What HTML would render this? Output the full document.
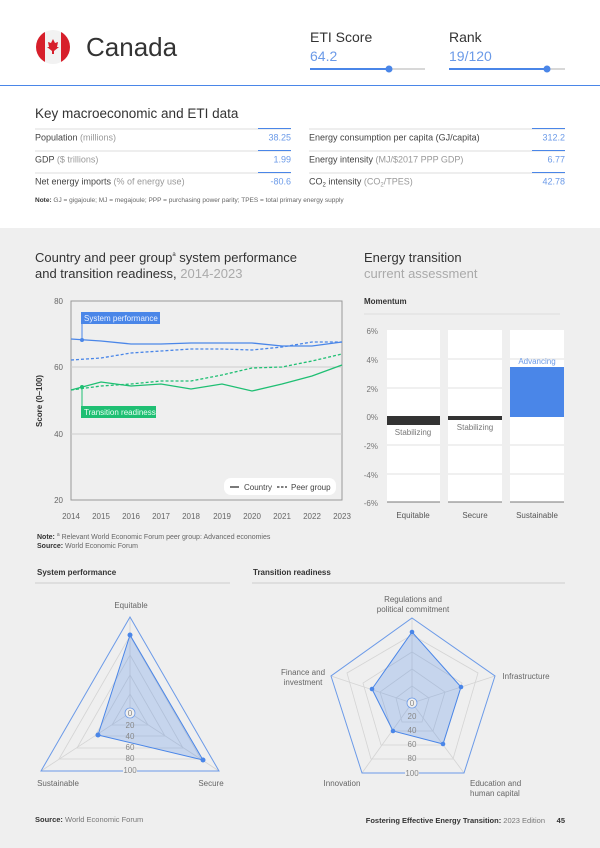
<!DOCTYPE html>
<html><head><meta charset="utf-8"><style>
html,body{margin:0;padding:0;background:#fff}
svg{display:block;font-family:"Liberation Sans",sans-serif}
</style></head><body>
<svg width="600" height="848" viewBox="0 0 600 848" xmlns="http://www.w3.org/2000/svg">
<rect width="600" height="228" fill="#fff"/>
<rect y="228" width="600" height="620" fill="#efefef"/>
<defs><clipPath id="fc"><circle cx="53" cy="47" r="17"/></clipPath></defs>
<g clip-path="url(#fc)">
<rect x="36" y="30" width="34" height="34" fill="#f2f2f2"/>
<rect x="36" y="30" width="9" height="34" fill="#d71f2b"/>
<rect x="61" y="30" width="9" height="34" fill="#d71f2b"/>
<path d="M53 39 L55 43 L58 42 L57 47 L59 47 L54 51 L54 54 L52 54 L52 51 L47 47 L49 47 L48 42 L51 43 Z" fill="#d71f2b"/>
</g>
<text x="86" y="56" font-size="26" fill="#333">Canada</text>
<text x="310" y="42" font-size="14" fill="#333">ETI Score</text>
<text x="310" y="61" font-size="14" fill="#6b9ae8">64.2</text>
<line x1="310" y1="69" x2="425" y2="69" stroke="#ccc" stroke-width="1.5"/>
<line x1="310" y1="69" x2="389" y2="69" stroke="#4a86e8" stroke-width="2"/>
<circle cx="389" cy="69" r="3.5" fill="#4a86e8"/>
<text x="449" y="42" font-size="14" fill="#333">Rank</text>
<text x="449" y="61" font-size="14" fill="#6b9ae8">19/120</text>
<line x1="449" y1="69" x2="565" y2="69" stroke="#ccc" stroke-width="1.5"/>
<line x1="449" y1="69" x2="547" y2="69" stroke="#4a86e8" stroke-width="2"/>
<circle cx="547" cy="69" r="3.5" fill="#4a86e8"/>
<line x1="0" y1="85.5" x2="600" y2="85.5" stroke="#4a86e8" stroke-width="1"/>
<text x="35" y="118" font-size="13.5" fill="#333">Key macroeconomic and ETI data</text>
<g font-size="9" fill="#444">
<line x1="35" y1="129" x2="291" y2="129" stroke="#ddd"/><line x1="258" y1="128.5" x2="291" y2="128.5" stroke="#4a86e8"/>
<line x1="35" y1="151" x2="291" y2="151" stroke="#ddd"/><line x1="258" y1="150.5" x2="291" y2="150.5" stroke="#4a86e8"/>
<line x1="35" y1="173" x2="291" y2="173" stroke="#ddd"/><line x1="258" y1="172.5" x2="291" y2="172.5" stroke="#4a86e8"/>
<line x1="309" y1="129" x2="565" y2="129" stroke="#ddd"/><line x1="532" y1="128.5" x2="565" y2="128.5" stroke="#4a86e8"/>
<line x1="309" y1="151" x2="565" y2="151" stroke="#ddd"/><line x1="532" y1="150.5" x2="565" y2="150.5" stroke="#4a86e8"/>
<line x1="309" y1="173" x2="565" y2="173" stroke="#ddd"/><line x1="532" y1="172.5" x2="565" y2="172.5" stroke="#4a86e8"/>
<text x="35" y="140.5">Population <tspan fill="#999">(millions)</tspan></text>
<text x="291" y="140.5" text-anchor="end" fill="#6b9ae8">38.25</text>
<text x="35" y="162.5">GDP <tspan fill="#999">($ trillions)</tspan></text>
<text x="291" y="162.5" text-anchor="end" fill="#6b9ae8">1.99</text>
<text x="35" y="184.5">Net energy imports <tspan fill="#999">(% of energy use)</tspan></text>
<text x="291" y="184.5" text-anchor="end" fill="#6b9ae8">-80.6</text>
<text x="309" y="140.5">Energy consumption per capita (GJ/capita)</text>
<text x="565" y="140.5" text-anchor="end" fill="#6b9ae8">312.2</text>
<text x="309" y="162.5">Energy intensity <tspan fill="#999">(MJ/$2017 PPP GDP)</tspan></text>
<text x="565" y="162.5" text-anchor="end" fill="#6b9ae8">6.77</text>
<text x="309" y="184.5">CO<tspan font-size="6" dy="2">2</tspan><tspan dy="-2"> intensity </tspan><tspan fill="#999">(CO<tspan font-size="6" dy="2">2</tspan><tspan dy="-2">/TPES)</tspan></tspan></text>
<text x="565" y="184.5" text-anchor="end" fill="#6b9ae8">42.78</text>
</g>
<text x="35" y="202" font-size="6.5" fill="#666"><tspan font-weight="bold" fill="#333">Note:</tspan> GJ = gigajoule; MJ = megajoule; PPP = purchasing power parity; TPES = total primary energy supply</text>
<text x="35" y="262" font-size="13" fill="#333">Country and peer group<tspan font-size="6" dy="-6">a</tspan><tspan dy="6"> system performance</tspan></text>
<text x="35" y="278" font-size="13" fill="#333">and transition readiness, <tspan fill="#aaa">2014-2023</tspan></text>
<text x="364" y="262" font-size="13" fill="#333">Energy transition</text>
<text x="364" y="278" font-size="13" fill="#aaa">current assessment</text>
<rect x="71" y="301" width="271" height="199" fill="none" stroke="#999" stroke-width="1"/>
<line x1="71" y1="367" x2="342" y2="367" stroke="#ccc"/>
<line x1="71" y1="434" x2="342" y2="434" stroke="#ccc"/>
<g font-size="8" fill="#666" text-anchor="end">
<text x="63" y="304">80</text><text x="63" y="370">60</text><text x="63" y="437">40</text><text x="63" y="503">20</text>
</g>
<g font-size="8" fill="#666" text-anchor="middle">
<text x="71" y="519">2014</text><text x="101" y="519">2015</text><text x="131" y="519">2016</text><text x="161" y="519">2017</text><text x="191" y="519">2018</text><text x="222" y="519">2019</text><text x="252" y="519">2020</text><text x="282" y="519">2021</text><text x="312" y="519">2022</text><text x="342" y="519">2023</text>
</g>
<text transform="translate(42,401) rotate(-90)" font-size="8" font-weight="bold" fill="#333" text-anchor="middle">Score (0–100)</text>
<polyline fill="none" stroke="#4a86e8" stroke-width="1.3" points="71,339 101,341 131,344 161,344 191,343 222,343 252,343 282,346 312,346 342,342"/>
<polyline fill="none" stroke="#4a86e8" stroke-width="1.3" stroke-dasharray="3,2" points="71,360 101,358 131,353 161,351 191,349 222,349 252,350 282,347 312,342 342,342"/>
<polyline fill="none" stroke="#1fbf73" stroke-width="1.3" points="71,390 101,382 131,386 161,384 191,389 222,384 252,391 282,384 312,376 342,365"/>
<polyline fill="none" stroke="#1fbf73" stroke-width="1.3" stroke-dasharray="3,2" points="71,390 101,386 131,384 161,381 191,381 222,375 252,368 282,367 312,361 342,354"/>
<line x1="82" y1="323" x2="82" y2="340" stroke="#4a86e8"/>
<circle cx="82" cy="340" r="2" fill="#4a86e8"/>
<rect x="81" y="312" width="79" height="12" fill="#4a86e8"/>
<text x="84" y="321" font-size="8" fill="#e8f0ff">System performance</text>
<line x1="82" y1="387" x2="82" y2="407" stroke="#1fbf73"/>
<circle cx="82" cy="387" r="2" fill="#1fbf73"/>
<rect x="81" y="406" width="75" height="12" fill="#1fbf73"/>
<text x="84" y="415" font-size="8" fill="#e8fff2">Transition readiness</text>
<rect x="224" y="478" width="112" height="17" rx="7" fill="#fff"/>
<line x1="230" y1="487" x2="239" y2="487" stroke="#333" stroke-width="1.3"/>
<text x="244" y="490" font-size="8" fill="#444">Country</text>
<line x1="277" y1="487" x2="287" y2="487" stroke="#333" stroke-width="1.3" stroke-dasharray="2.5,1.5"/>
<text x="291" y="490" font-size="8" fill="#444">Peer group</text>
<text x="364" y="304" font-size="8" font-weight="bold" fill="#333">Momentum</text>
<line x1="364" y1="314" x2="560" y2="314" stroke="#ddd"/>
<g fill="#fff"><rect x="387" y="330" width="53" height="172"/><rect x="448" y="330" width="54" height="172"/><rect x="510" y="330" width="54" height="172"/></g>
<g stroke="#e6e6e6" stroke-width="1.2">
<line x1="387" y1="359" x2="564" y2="359"/><line x1="387" y1="388" x2="564" y2="388"/><line x1="387" y1="445" x2="564" y2="445"/><line x1="387" y1="474" x2="564" y2="474"/>
</g>
<g stroke="#efefef" stroke-width="8"><line x1="444" y1="330" x2="444" y2="502"/><line x1="506" y1="330" x2="506" y2="502"/></g>
<g stroke="#777" stroke-width="1"><line x1="387" y1="502" x2="440" y2="502"/><line x1="448" y1="502" x2="502" y2="502"/><line x1="510" y1="502" x2="564" y2="502"/></g>
<rect x="387" y="416" width="53" height="9" fill="#333"/>
<rect x="448" y="416" width="54" height="4" fill="#333"/>
<rect x="510" y="367" width="54" height="50" fill="#4a86e8"/>
<g font-size="8" fill="#777" text-anchor="middle">
<text x="413" y="435">Stabilizing</text><text x="475" y="430">Stabilizing</text><text x="537" y="364" fill="#6b9ae8">Advancing</text>
<text x="413" y="518" fill="#555">Equitable</text><text x="475" y="518" fill="#555">Secure</text><text x="537" y="518" fill="#555">Sustainable</text>
</g>
<g font-size="8" fill="#777" text-anchor="end">
<text x="378" y="334">6%</text><text x="378" y="363">4%</text><text x="378" y="392">2%</text><text x="378" y="420">0%</text><text x="378" y="449">-2%</text><text x="378" y="478">-4%</text><text x="378" y="506">-6%</text>
</g>
<text x="37" y="539" font-size="7" fill="#666"><tspan font-weight="bold" fill="#333">Note: </tspan><tspan font-size="5" dy="-3">a</tspan><tspan dy="3"> Relevant World Economic Forum peer group: Advanced economies</tspan></text>
<text x="37" y="548" font-size="7" fill="#666"><tspan font-weight="bold" fill="#333">Source:</tspan> World Economic Forum</text>
<text x="37" y="575" font-size="8" font-weight="bold" fill="#333">System performance</text>
<line x1="35" y1="583" x2="230" y2="583" stroke="#ccc"/>
<text x="253" y="575" font-size="8" font-weight="bold" fill="#333">Transition readiness</text>
<line x1="252" y1="583" x2="565" y2="583" stroke="#ccc"/>
<g fill="none" stroke="#d4d4d4" stroke-width="0.8">
<polygon points="130,694 148,725 112,725"/>
<polygon points="130,675 165,736 95,736"/>
<polygon points="130,655 183,748 77,748"/>
<polygon points="130,636 201,759 59,759"/>
<line x1="130" y1="713" x2="130" y2="617"/><line x1="130" y1="713" x2="219" y2="771"/><line x1="130" y1="713" x2="41" y2="771"/>
</g>
<polygon points="130,617 219,771 41,771" fill="none" stroke="#6b9ae8" stroke-width="1"/>
<polygon points="130,635 203,760 98,735" fill="#4a86e8" fill-opacity="0.25" stroke="#4a86e8" stroke-width="1"/>
<g fill="#4a86e8"><circle cx="130" cy="635" r="2.5"/><circle cx="203" cy="760" r="2.5"/><circle cx="98" cy="735" r="2.5"/></g>
<g font-size="8" fill="#888" text-anchor="middle">
<rect x="123" y="765" width="14" height="9" fill="#efefef"/>
<text x="130" y="728">20</text><text x="130" y="739">40</text><text x="130" y="750">60</text><text x="130" y="761">80</text><text x="130" y="773">100</text>
<circle cx="130" cy="713" r="5" fill="#efefef" stroke="#6b9ae8" stroke-width="0.8"/>
<text x="130" y="716">0</text>
<text x="131" y="608" fill="#666">Equitable</text>
<text x="58" y="786" fill="#666">Sustainable</text><text x="211" y="786" fill="#666">Secure</text>
</g>
<g fill="none" stroke="#d4d4d4" stroke-width="0.8">
<polygon points="412,686 429,698 422,722 402,722 396,698"/>
<polygon points="412,669 445,692 433,731 392,731 380,692"/>
<polygon points="412,652 462,683 443,745 381,745 363,683"/>
<polygon points="412,635 478,673 453,759 371,759 347,673"/>
<line x1="412" y1="703" x2="412" y2="618"/><line x1="412" y1="703" x2="495" y2="676"/><line x1="412" y1="703" x2="464" y2="773"/><line x1="412" y1="703" x2="362" y2="773"/><line x1="412" y1="703" x2="331" y2="676"/>
</g>
<polygon points="412,618 495,676 464,773 362,773 331,676" fill="none" stroke="#6b9ae8" stroke-width="1"/>
<polygon points="412,632 461,687 443,744 393,731 372,689" fill="#4a86e8" fill-opacity="0.25" stroke="#4a86e8" stroke-width="1"/>
<g fill="#4a86e8"><circle cx="412" cy="632" r="2.3"/><circle cx="461" cy="687" r="2.3"/><circle cx="443" cy="744" r="2.3"/><circle cx="393" cy="731" r="2.3"/><circle cx="372" cy="689" r="2.3"/></g>
<g font-size="8" fill="#888" text-anchor="middle">
<rect x="405" y="767" width="14" height="9" fill="#efefef"/>
<text x="412" y="719">20</text><text x="412" y="733">40</text><text x="412" y="747">60</text><text x="412" y="761">80</text><text x="412" y="776">100</text>
<circle cx="412" cy="703" r="5" fill="#efefef" stroke="#6b9ae8" stroke-width="0.8"/>
<text x="412" y="706">0</text>
<text x="413" y="602" fill="#666">Regulations and</text><text x="413" y="612" fill="#666">political commitment</text>
<text x="303" y="675" fill="#666">Finance and</text><text x="303" y="685" fill="#666">investment</text>
<text x="526" y="679" fill="#666">Infrastructure</text>
<text x="342" y="786" fill="#666">Innovation</text>
<text x="470" y="786" fill="#666" text-anchor="start">Education and</text><text x="470" y="796" fill="#666" text-anchor="start">human capital</text>
</g>
<text x="35" y="822" font-size="7.5" fill="#777"><tspan font-weight="bold" fill="#333">Source:</tspan> World Economic Forum</text>
<text x="545" y="823" font-size="7.5" fill="#777" text-anchor="end"><tspan font-weight="bold" fill="#333">Fostering Effective Energy Transition:</tspan> 2023 Edition</text>
<text x="565" y="823" font-size="7.5" font-weight="bold" fill="#333" text-anchor="end">45</text>
</svg>
</body></html>
